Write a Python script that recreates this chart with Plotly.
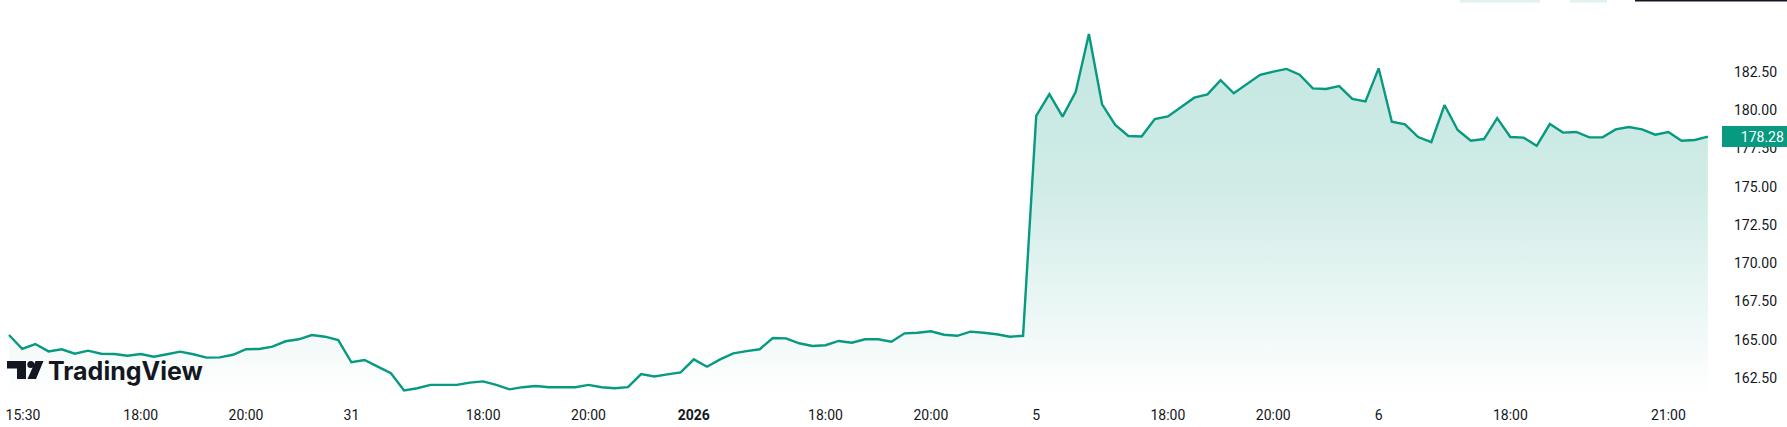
import pandas as pd
import plotly.graph_objects as go

# ---------------- data ----------------
session_dates = ["2025-12-30", "2025-12-31", "2026-01-02", "2026-01-05", "2026-01-06"]
session_open = "15:30"
bar_minutes = 15
bars_per_session = 26

prices = [
    165.31, 164.40, 164.72, 164.24, 164.38, 164.09, 164.29, 164.09, 164.07, 163.96,
    164.07, 163.89, 164.05, 164.22, 164.05, 163.83, 163.85, 164.02, 164.38, 164.40,
    164.55, 164.90, 165.03, 165.31, 165.20, 164.98,
    163.53, 163.68, 163.24, 162.81, 161.68, 161.83, 162.05, 162.05, 162.05, 162.20,
    162.28, 162.05, 161.76, 161.90, 161.98, 161.90, 161.90, 161.90, 162.05, 161.90,
    161.83, 161.90, 162.76, 162.60, 162.74, 162.87,
    163.72, 163.24, 163.72, 164.11, 164.26, 164.38, 165.11, 165.09, 164.77, 164.59,
    164.64, 164.92, 164.81, 165.03, 165.03, 164.87, 165.42, 165.46, 165.55, 165.33,
    165.26, 165.53, 165.46, 165.36, 165.20, 165.26,
    179.64, 181.06, 179.58, 181.21, 184.98, 180.39, 179.04, 178.32, 178.28, 179.43,
    179.60, 180.23, 180.82, 181.04, 181.96, 181.11, 181.70, 182.32, 182.52, 182.70,
    182.32, 181.43, 181.39, 181.58, 180.74, 180.58,
    182.74, 179.25, 179.08, 178.25, 177.92, 180.34, 178.71, 178.01, 178.12, 179.49,
    178.25, 178.21, 177.68, 179.10, 178.54, 178.58, 178.23, 178.23, 178.75, 178.90,
    178.75, 178.40, 178.58, 178.01, 178.06, 178.28,
]

tick_times = [
    "2025-12-30 15:30", "2025-12-30 18:00", "2025-12-30 20:00",
    "2025-12-31 15:30", "2025-12-31 18:00", "2025-12-31 20:00",
    "2026-01-02 15:30", "2026-01-02 18:00", "2026-01-02 20:00",
    "2026-01-05 15:30", "2026-01-05 18:00", "2026-01-05 20:00",
    "2026-01-06 15:30", "2026-01-06 18:00", "2026-01-06 21:00",
]
tick_labels = [
    "15:30", "18:00", "20:00",
    "31", "18:00", "20:00",
    "<b>2026</b>", "18:00", "20:00",
    "5", "18:00", "20:00",
    "6", "18:00", "21:00",
]
y_ticks = [162.5, 165.0, 167.5, 170.0, 172.5, 175.0, 177.5, 180.0, 182.5]

# ---------------- build bar timeline ----------------
times = []
for d in session_dates:
    start = pd.Timestamp(f"{d} {session_open}")
    for k in range(bars_per_session):
        times.append(start + pd.Timedelta(minutes=bar_minutes * k))
times = times[: len(prices)]
bar_index = list(range(len(prices)))
lookup = {t: i for i, t in enumerate(times)}
tick_vals = [float(lookup[pd.Timestamp(t)]) for t in tick_times]
tick_vals[0] += 1.06  # first label nudged right so it is not clipped

LINE = "#089981"
TEXT = "#131722"
W, H = 1787, 427
PL, PR, PT, PB = 0, 72, 0, 31
pw, ph = W - PL - PR, H - PT - PB


def px(x):
    return (x - PL) / pw


def py(y):
    return 1 - (y - PT) / ph


y_lo, y_hi = 161.324, 187.206

fig = go.Figure()
fig.add_trace(go.Scatter(
    x=bar_index, y=prices, mode="lines",
    line=dict(color=LINE, width=2.4),
    fill="tozeroy",
    fillgradient=dict(
        type="vertical",
        start=y_lo, stop=max(prices),
        colorscale=[
            [0.0, "rgba(8,153,129,0.0)"],
            [0.3, "rgba(8,153,129,0.10)"],
            [0.58, "rgba(8,153,129,0.19)"],
            [1.0, "rgba(8,153,129,0.24)"],
        ],
    ),
    hoverinfo="skip",
    showlegend=False,
))

fig.update_layout(
    width=W, height=H,
    margin=dict(l=PL, r=PR, t=PT, b=PB, pad=0),
    paper_bgcolor="white", plot_bgcolor="white",
    font=dict(family="Roboto", size=14, color=TEXT),
    xaxis=dict(
        range=[-9 / 13.17, 129.54],
        tickmode="array", tickvals=tick_vals, ticktext=tick_labels,
        showgrid=False, zeroline=False, showline=False,
        ticks="", ticklabelstandoff=9,
        tickfont=dict(family="Roboto", size=14, color=TEXT),
        automargin=False,
    ),
    yaxis=dict(
        range=[y_lo, y_hi], side="right",
        tickmode="array", tickvals=y_ticks, tickformat=".2f",
        showgrid=False, zeroline=False, showline=False,
        ticks="", ticklabelstandoff=18,
        tickfont=dict(family="Roboto", size=14, color=TEXT),
        automargin=False,
    ),
)

# last price badge
fig.add_annotation(
    x=px(1722), xref="paper", xanchor="left",
    y=prices[-1], yref="y", yanchor="middle",
    text=f"{prices[-1]:.2f}", showarrow=False,
    font=dict(family="Roboto", size=14, color="white"),
    bgcolor=LINE, bordercolor=LINE, borderwidth=0, borderpad=3,
    width=59, height=15, align="right",
)

# TradingView watermark
fig.add_annotation(
    x=px(46), xref="paper", xanchor="left",
    y=py(371), yref="paper", yanchor="middle",
    text="TradingView", showarrow=False,
    font=dict(family="Inter", size=25, color="#131722", weight=700),
)
shapes = []
tpath = (f"M{px(7)},{py(361)} L{px(26)},{py(361)} L{px(26)},{py(379)} "
         f"L{px(17)},{py(379)} L{px(17)},{py(368.5)} L{px(7)},{py(368.5)} Z")
shapes.append(dict(type="path", path=tpath, xref="paper", yref="paper",
                   fillcolor="#131722", line=dict(width=0)))
shapes.append(dict(type="circle", xref="paper", yref="paper",
                   x0=px(27.3), x1=px(34.3), y0=py(368), y1=py(361),
                   fillcolor="#131722", line=dict(width=0)))
spath = (f"M{px(35.5)},{py(361)} L{px(43.5)},{py(361)} L{px(36)},{py(379)} "
         f"L{px(27.5)},{py(379)} Z")
shapes.append(dict(type="path", path=spath, xref="paper", yref="paper",
                   fillcolor="#131722", line=dict(width=0)))
# cut-off toolbar pieces at the top edge
shapes.append(dict(type="rect", xref="paper", yref="paper",
                   x0=px(1460), x1=px(1540), y0=py(2.5), y1=py(0),
                   fillcolor="#dff2ee", line=dict(width=0)))
shapes.append(dict(type="rect", xref="paper", yref="paper",
                   x0=px(1570), x1=px(1607), y0=py(2.5), y1=py(0),
                   fillcolor="#dff2ee", line=dict(width=0)))
shapes.append(dict(type="rect", xref="paper", yref="paper",
                   x0=px(1635), x1=px(1787), y0=py(1.5), y1=py(0),
                   fillcolor="#131722", line=dict(width=0)))
fig.update_layout(shapes=shapes)

fig.write_html(
    "out.html",
    config={"displayModeBar": False},
    post_script="document.body.style.margin='0';document.body.style.overflow='hidden';",
)
